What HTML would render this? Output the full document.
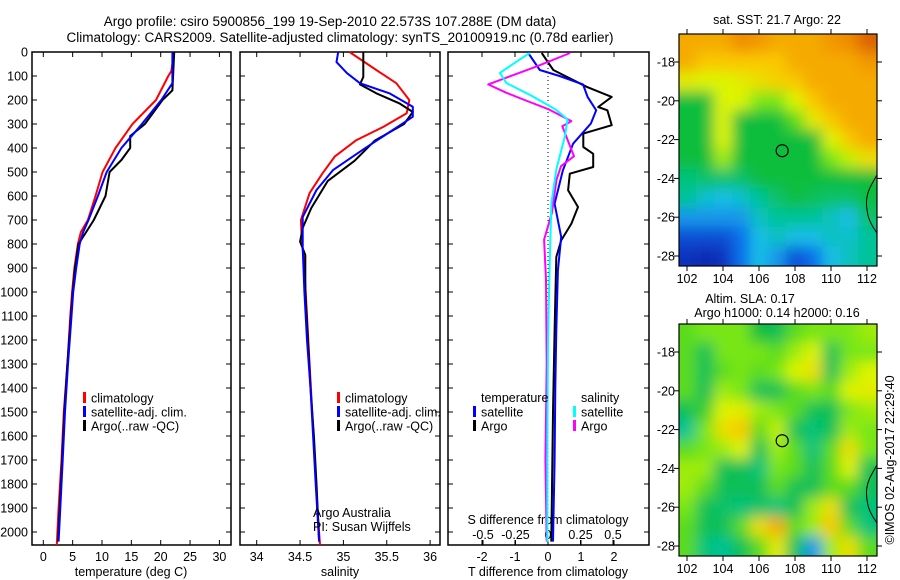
<!DOCTYPE html>
<html><head><meta charset="utf-8"><style>
html,body{margin:0;padding:0;background:#fff;}
svg{display:block;font-family:"Liberation Sans",sans-serif;}
text{font-size:12.5px;fill:#000;}
</style></head><body>
<svg id="s" width="900" height="580" viewBox="0 0 900 580" xmlns="http://www.w3.org/2000/svg">
<defs>
<filter id="bl" filterUnits="userSpaceOnUse" x="600" y="0" width="300" height="580"><feGaussianBlur stdDeviation="7"/></filter>
<clipPath id="c1"><rect x="679" y="34" width="198" height="232"/></clipPath>
<clipPath id="c2"><rect x="679" y="324" width="198" height="232"/></clipPath>
</defs>
<text x="330" y="26" text-anchor="middle" style="font-size:13.5px">Argo profile: csiro 5900856_199 19-Sep-2010 22.573S 107.288E (DM data)</text>
<text x="340" y="42" text-anchor="middle" style="font-size:13.5px">Climatology: CARS2009. Satellite-adjusted climatology: synTS_20100919.nc (0.78d earlier)</text>
<g id="g"></g>
</svg>
<script>
// ---------- data ----------
const depthTicks=[0,100,200,300,400,500,600,700,800,900,1000,1100,1200,1300,1400,1500,1600,1700,1800,1900,2000];
const tempTicks=[0,5,10,15,20,25,30];
const salTicks=[34,34.5,35,35.5,36];
const tdTicks=[-2,-1,0,1,2];
const sdTicks=[-0.5,-0.25,0,0.25,0.5];
const sdTickLabels=["-0.5","-0.25","0","0.25","0.5"];
const tempClimDepth=[0,80,100,200,300,400,500,600,700,750,800,900,1000,1100,1300,1500,1700,1900,2054];
const tempClimVal=[22.3,21.8,21.3,19.2,15.2,12.3,10.1,8.9,7.6,6.4,5.9,5.3,4.9,4.6,4.1,3.5,3.1,2.6,2.3];
const tempSatDepth=[0,130,200,300,400,500,600,700,750,800,900,1000,1100,1300,1500,1700,1900,2040];
const tempSatVal=[22,22,20.1,16.8,13.3,10.8,9.3,7.7,6.8,6.2,5.6,5.1,4.8,4.2,3.7,3.3,2.9,2.6];
const tempArgoDepth=[0,160,200,300,350,400,450,500,600,700,750,800,900,1000,1100,1300,1500,1700,1900,2040];
const tempArgoVal=[22.3,22,20.3,17.3,14.8,14.8,13.3,11.3,10.6,8.6,7.3,6.0,5.4,5.0,4.7,4.1,3.6,3.2,2.8,2.5];
const salClimDepth=[0,75,130,200,255,312,367,436,505,588,700,780,900,1100,1300,1500,1700,1900,2054];
const salClimVal=[35.07,35.38,35.61,35.76,35.73,35.46,35.15,34.9,34.76,34.61,34.51,34.52,34.55,34.58,34.61,34.64,34.67,34.7,34.73];
const salSatDepth=[0,42,88,130,172,228,270,325,408,492,575,688,814,1000,1200,1400,1600,1800,2040];
const salSatVal=[34.94,34.92,35.04,35.19,35.53,35.8,35.8,35.57,35.22,34.88,34.69,34.53,34.53,34.55,34.58,34.62,34.65,34.68,34.72];
const salArgoDepth=[0,104,135,172,215,250,300,370,453,537,650,733,790,846,1000,1200,1400,1600,1800,2040];
const salArgoVal=[35.23,35.23,35.19,35.38,35.65,35.8,35.7,35.36,35.13,34.82,34.63,34.53,34.5,34.56,34.56,34.59,34.62,34.66,34.69,34.72];
const tdSatDepth=[4,75,100,135,187,243,298,382,493,632,771,910,1160,1400,1700,2040];
const tdSatVal=[-0.6,-0.25,0.35,1.06,1.2,1.46,1.3,0.76,0.45,0.2,0.4,0.3,0.25,0.22,0.2,0.15];
const tdArgoDepth=[4,75,145,187,229,243,305,340,396,424,479,507,576,646,715,785,854,1160,1500,2040];
const tdArgoVal=[-0.19,0.16,1.17,1.93,1.52,1.8,1.93,1.07,1.07,1.37,1.37,0.66,0.61,0.91,0.71,0.4,0.25,0.2,0.15,0.1];
const sdSatDepth=[4,32,87,129,184,240,281,351,490,630,880,1200,1600,2040];
const sdSatVal=[-0.14,-0.22,-0.37,-0.32,-0.12,0.06,0.15,0.13,0.064,0.026,0.013,0.0,-0.005,-0.005];
const sdArgoDepth=[4,60,101,135,170,198,240,288,309,365,434,476,532,670,782,948,1300,1700,2040];
const sdArgoVal=[0.17,-0.087,-0.29,-0.46,-0.32,-0.19,0.01,0.18,0.11,0.15,0.2,0.1,0.065,0.03,-0.03,-0.015,-0.01,-0.02,-0.01];
const mapLons=[102,103,104,105,106,107,108,109,110,111,112];
const mapLats=[17,18,19,20,21,22,23,24,25,26,27,28];
const lonTicks=[102,104,106,108,110,112];
const latTicks=[18,20,22,24,26,28];
const sstGrid=[
[0.85,0.85,0.85,0.9,0.88,0.85,0.85,0.85,0.88,0.9,0.95],
[0.85,0.8,0.8,0.8,0.8,0.8,0.85,0.85,0.85,0.85,0.88],
[0.72,0.7,0.7,0.72,0.75,0.78,0.8,0.85,0.85,0.85,0.85],
[0.55,0.55,0.7,0.7,0.62,0.62,0.7,0.8,0.85,0.85,0.85],
[0.55,0.55,0.7,0.55,0.55,0.55,0.6,0.72,0.8,0.85,0.85],
[0.55,0.55,0.7,0.55,0.55,0.55,0.55,0.55,0.7,0.8,0.85],
[0.55,0.55,0.65,0.55,0.55,0.55,0.55,0.55,0.62,0.68,0.75],
[0.48,0.5,0.5,0.5,0.55,0.55,0.55,0.55,0.55,0.55,0.55],
[0.45,0.38,0.35,0.38,0.45,0.5,0.55,0.52,0.5,0.5,0.55],
[0.3,0.3,0.3,0.3,0.4,0.45,0.45,0.45,0.4,0.35,0.5],
[0.2,0.2,0.2,0.25,0.35,0.4,0.35,0.35,0.4,0.38,0.45],
[0.15,0.1,0.15,0.25,0.35,0.3,0.2,0.25,0.35,0.4,0.45]];
const slaGrid=[
[0.6,0.62,0.62,0.62,0.55,0.52,0.6,0.62,0.62,0.62,0.65],
[0.6,0.52,0.62,0.62,0.62,0.6,0.65,0.7,0.52,0.62,0.62],
[0.6,0.52,0.6,0.62,0.6,0.62,0.7,0.75,0.52,0.65,0.7],
[0.6,0.52,0.65,0.62,0.52,0.52,0.6,0.62,0.6,0.7,0.72],
[0.52,0.58,0.7,0.72,0.65,0.62,0.6,0.52,0.52,0.62,0.65],
[0.45,0.62,0.75,0.8,0.6,0.68,0.52,0.48,0.52,0.65,0.62],
[0.6,0.62,0.65,0.7,0.52,0.65,0.6,0.48,0.6,0.75,0.62],
[0.65,0.65,0.52,0.52,0.48,0.62,0.6,0.52,0.6,0.7,0.52],
[0.65,0.6,0.52,0.52,0.52,0.6,0.52,0.52,0.6,0.6,0.52],
[0.62,0.52,0.5,0.48,0.5,0.48,0.52,0.65,0.75,0.52,0.48],
[0.6,0.52,0.52,0.6,0.75,0.85,0.6,0.65,0.8,0.6,0.48],
[0.6,0.48,0.45,0.52,0.6,0.72,0.52,0.3,0.65,0.75,0.6]];
const argoLon=107.288, argoLat=22.573;

// ---------- helpers ----------
const NS="http://www.w3.org/2000/svg";
const G=document.getElementById('g');
function mk(tag,attrs,parent){const e=document.createElementNS(NS,tag);for(const k in attrs)e.setAttribute(k,attrs[k]);(parent||G).appendChild(e);return e;}
const yD=d=>52+0.24*d;
const xT=t=>43.3+5.87*t;
const xS=s=>256.7+86.7*(s-34);
const xTD=t=>548+33*t;
const xSD=s=>548+130*s;
const PB=545;

function frame(x0,x1,name){const r=mk('rect',{x:x0,y:52,width:x1-x0,height:PB-52,fill:'none',stroke:'#000','stroke-width':1.5});

}
function txt(x,y,s,anchor,name,extra){const t=mk('text',Object.assign({x:x,y:y,'text-anchor':anchor||'start'},extra||{}));t.textContent=s;

return t;}
function line(xs,ys,color,w,name){const p=mk('polyline',{points:xs.map((x,i)=>x.toFixed(1)+','+ys[i].toFixed(1)).join(' '),fill:'none',stroke:color,'stroke-width':w,'stroke-linejoin':'round'});

}

// ---------- panel frames ----------
frame(32,231,'temperature-panel');
frame(240,440,'salinity-panel');
frame(448,649,'difference-panel');
depthTicks.forEach(d=>{
  txt(28,yD(d)+4.5,String(d),'end','depth-tick-label');
  [[32,37],[226,231],[240,245],[435,440],[448,453],[644,649]].forEach(p=>mk('line',{x1:p[0],x2:p[1],y1:yD(d),y2:yD(d),stroke:'#000'}));
});
tempTicks.forEach(t=>{mk('line',{x1:xT(t),x2:xT(t),y1:52,y2:57,stroke:'#000'});mk('line',{x1:xT(t),x2:xT(t),y1:PB-5,y2:PB,stroke:'#000'});
  txt(xT(t),561,String(t),'middle','temperature-tick-label');});
txt(131,576,'temperature (deg C)','middle','temperature-axis-title');
salTicks.forEach(s=>{mk('line',{x1:xS(s),x2:xS(s),y1:52,y2:57,stroke:'#000'});mk('line',{x1:xS(s),x2:xS(s),y1:PB-5,y2:PB,stroke:'#000'});
  txt(xS(s),561,String(s),'middle','salinity-tick-label');});
txt(340,576,'salinity','middle','salinity-axis-title');
tdTicks.forEach(t=>{mk('line',{x1:xTD(t),x2:xTD(t),y1:PB-5,y2:PB,stroke:'#000'});mk('line',{x1:xTD(t),x2:xTD(t),y1:52,y2:57,stroke:'#000'});
  txt(xTD(t),561,String(t),'middle','t-difference-tick-label');});
txt(548,576,'T difference from climatology','middle','t-difference-axis-title');
sdTicks.forEach((s,i)=>{mk('line',{x1:xSD(s),x2:xSD(s),y1:PB-5,y2:PB,stroke:'#000'});
  txt(xSD(s),539,sdTickLabels[i],'middle','s-difference-tick-label');});
txt(548,524,'S difference from climatology','middle','s-difference-axis-title');
mk('line',{x1:548,x2:548,y1:52,y2:PB,stroke:'#000','stroke-dasharray':'1,3'});

// ---------- profiles ----------
line(tempClimVal.map(xT),tempClimDepth.map(yD),'#ff0000',2,'temperature-climatology-line');
line(tempArgoVal.map(xT),tempArgoDepth.map(yD),'#000',2,'temperature-argo-line');
line(tempSatVal.map(xT),tempSatDepth.map(yD),'#0000ff',2,'temperature-satellite-line');
line(salClimVal.map(xS),salClimDepth.map(yD),'#ff0000',2,'salinity-climatology-line');
line(salArgoVal.map(xS),salArgoDepth.map(yD),'#000',2,'salinity-argo-line');
line(salSatVal.map(xS),salSatDepth.map(yD),'#0000ff',2,'salinity-satellite-line');
line(tdArgoVal.map(xTD),tdArgoDepth.map(yD),'#000',2,'t-difference-argo-line');
line(tdSatVal.map(xTD),tdSatDepth.map(yD),'#0000ff',2,'t-difference-satellite-line');
line(sdArgoVal.map(xSD),sdArgoDepth.map(yD),'#ff00ff',2,'s-difference-argo-line');
line(sdSatVal.map(xSD),sdSatDepth.map(yD),'#00ffff',2,'s-difference-satellite-line');

// ---------- legends ----------
function leg(x,y,c,label,name){const r=mk('rect',{x:x,y:y-6,width:3,height:11,fill:c});


txt(x+8,y+4.5,label,'start',name);}
leg(83,398,'#ff0000','climatology','temp-legend-climatology');
leg(83,412,'#0000ff','satellite-adj. clim.','temp-legend-satellite');
leg(83,426,'#000','Argo(..raw -QC)','temp-legend-argo');
leg(337,398,'#ff0000','climatology','sal-legend-climatology');
leg(337,412,'#0000ff','satellite-adj. clim.','sal-legend-satellite');
leg(337,426,'#000','Argo(..raw -QC)','sal-legend-argo');
txt(481,402,'temperature','start','diff-legend-temperature-header');
leg(473,412,'#0000ff','satellite','diff-legend-t-satellite');
leg(473,426,'#000','Argo','diff-legend-t-argo');
txt(581,402,'salinity','start','diff-legend-salinity-header');
leg(573,412,'#00ffff','satellite','diff-legend-s-satellite');
leg(573,426,'#ff00ff','Argo','diff-legend-s-argo');
txt(313,517,'Argo Australia','start','program-label');
txt(313,531,'PI: Susan Wijffels','start','pi-label');

// ---------- maps ----------
const stops=[[0,[10,30,150]],[0.15,[10,50,190]],[0.25,[16,110,235]],[0.35,[20,190,230]],[0.45,[0,195,150]],[0.55,[16,190,60]],[0.62,[120,230,20]],[0.7,[220,245,0]],[0.8,[250,200,0]],[0.9,[240,140,0]],[1,[200,60,0]]];
function cmap(v){for(let i=1;i<stops.length;i++){if(v<=stops[i][0]){const a=stops[i-1],b=stops[i],f=(v-a[0])/(b[0]-a[0]);return 'rgb('+a[1].map((c,k)=>Math.round(c+(b[1][k]-c)*f)).join(',')+')';}}return 'rgb(200,60,0)';}
function drawMap(grid,top,clip,name){
  const xL=lon=>687+18*(lon-102), yL=lat=>top+28+19.4*(lat-18);
  const g=mk('g',{'clip-path':'url(#'+clip+')'});
  
  
  const gb=mk('g',{filter:'url(#bl)'},g);
  grid.forEach((row,i)=>row.forEach((v,j)=>{
    let x0=xL(mapLons[j]-0.5),x1=xL(mapLons[j]+0.5),y0=yL(mapLats[i]-0.5),y1=yL(mapLats[i]+0.5);
    if(j===0)x0-=25; if(j===row.length-1)x1+=25; if(i===0)y0-=25; if(i===grid.length-1)y1+=25;
    mk('rect',{x:x0,y:y0,width:x1-x0+0.5,height:y1-y0+0.5,fill:cmap(v)},gb);
  }));
  mk('path',{d:`M877,${top+141} C872,${top+150} 866,${top+158} 866.5,${top+170} C867,${top+182} 870,${top+188} 873,${top+193} L877,${top+199}`,fill:'none',stroke:'#000','stroke-width':1},g);
  const c=mk('circle',{cx:xL(argoLon),cy:yL(argoLat),r:6,fill:'none',stroke:'#000','stroke-width':1.2});
  
  
  mk('rect',{x:679,y:top,width:198,height:232,fill:'none',stroke:'#000','stroke-width':1.2});
  lonTicks.forEach(l=>{mk('line',{x1:xL(l),x2:xL(l),y1:top-5,y2:top,stroke:'#000'});mk('line',{x1:xL(l),x2:xL(l),y1:top+232,y2:top+237,stroke:'#000'});
    txt(xL(l),top+249,String(l),'middle','longitude-tick-label');});
  latTicks.forEach(l=>{mk('line',{x1:674,x2:679,y1:yL(l),y2:yL(l),stroke:'#000'});mk('line',{x1:877,x2:882,y1:yL(l),y2:yL(l),stroke:'#000'});
    txt(675,yL(l)+4.5,'-'+l,'end','latitude-tick-label');});
}
drawMap(sstGrid,34,'c1','sst-map');
drawMap(slaGrid,324,'c2','sla-map');
txt(777,24,'sat. SST: 21.7 Argo: 22','middle','sst-map-title');
txt(750,303,'Altim. SLA: 0.17','middle','sla-map-title');
txt(777,317,'Argo h1000: 0.14 h2000: 0.16','middle','sla-map-subtitle');
txt(0,0,'©IMOS 02-Aug-2017 22:29:40','middle','copyright-label',{transform:'translate(894,460) rotate(-90)'});
</script>
</body></html>
